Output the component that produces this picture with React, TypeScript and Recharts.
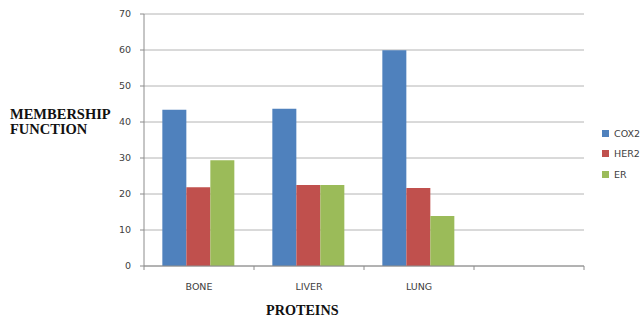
import React from 'react';
import {
  BarChart,
  Bar,
  XAxis,
  YAxis,
  CartesianGrid
} from 'recharts';

const categories = ['BONE', 'LIVER', 'LUNG', ''];
const cox2 = [43.4, 43.7, 59.9, null];
const her2 = [21.9, 22.5, 21.7, null];
const er = [29.4, 22.5, 13.9, null];
const yTicks = [0, 10, 20, 30, 40, 50, 60, 70];

const series = [
  { key: 'COX2', color: '#4F81BD' },
  { key: 'HER2', color: '#C0504D' },
  { key: 'ER', color: '#9BBB59' }
];

const data = categories.map((name, i) => ({
  name,
  COX2: cox2[i],
  HER2: her2[i],
  ER: er[i]
}));

const tickFont = '"DejaVu Sans", Verdana, sans-serif';
const titleFont = '"Liberation Serif", "Times New Roman", serif';

// Excel style: tick marks sit between categories, label in the middle
const CategoryTick = (props: any) => {
  const { x, y, payload, index } = props;
  const half = payload && payload.offset ? payload.offset : 55;
  const isLast = index === categories.length - 1;
  return (
    <g>
      <line x1={x - half} y1={y} x2={x - half} y2={y + 4} stroke="#8c8c8c" />
      {isLast && <line x1={x + half} y1={y} x2={x + half} y2={y + 4} stroke="#8c8c8c" />}
      <text
        x={x}
        y={y + 23.5}
        textAnchor="middle"
        fontSize={9.5}
        fontFamily={tickFont}
        fill="#404040"
      >
        {payload.value}
      </text>
    </g>
  );
};

const LegendBox = () => (
  <div
    style={{
      position: 'absolute',
      left: 602,
      top: 123,
      fontFamily: tickFont,
      fontSize: 9.5,
      color: '#404040',
      whiteSpace: 'nowrap'
    }}
  >
    {series.map((s) => (
      <div key={s.key} style={{ display: 'flex', alignItems: 'center', height: 20.5 }}>
        <span style={{ width: 7, height: 7, background: s.color, marginRight: 5, display: 'inline-block' }} />
        <span>{s.key}</span>
      </div>
    ))}
  </div>
);

const App: React.FC = () => {
  return (
    <div style={{ position: 'absolute', left: 0, top: 0, width: 640, height: 322, overflow: 'hidden', background: '#fff' }}>
      <BarChart
        width={640}
        height={322}
        data={data}
        margin={{ top: 14, right: 56, bottom: 0, left: 0 }}
        barCategoryGap="16.67%"
        barGap={0}
      >
        <CartesianGrid vertical={false} stroke="#b4b4b4" />
        <XAxis
          dataKey="name"
          height={56}
          axisLine={{ stroke: '#8c8c8c' }}
          tickLine={false}
          tickSize={0}
          tickMargin={0}
          interval={0}
          tick={<CategoryTick />}
        />
        <YAxis
          width={144}
          domain={[0, 70]}
          ticks={yTicks}
          interval={0}
          axisLine={{ stroke: '#8c8c8c' }}
          tickLine={{ stroke: '#8c8c8c' }}
          tickSize={4}
          tickMargin={9}
          tick={{ fontSize: 9.5, fontFamily: tickFont, fill: '#404040' }}
        />
        {series.map((s) => (
          <Bar key={s.key} dataKey={s.key} fill={s.color} isAnimationActive={false} />
        ))}
      </BarChart>
      <LegendBox />
      <div
        style={{
          position: 'absolute',
          left: 10,
          top: 107,
          fontFamily: titleFont,
          fontWeight: 'bold',
          fontSize: 14.5,
          lineHeight: '15.3px',
          color: '#111'
        }}
      >
        MEMBERSHIP
        <br />
        FUNCTION
      </div>
      <div
        style={{
          position: 'absolute',
          left: 266,
          top: 302,
          fontFamily: titleFont,
          fontWeight: 'bold',
          fontSize: 14.2,
          lineHeight: '16px',
          color: '#111'
        }}
      >
        PROTEINS
      </div>
    </div>
  );
};

export default App;
